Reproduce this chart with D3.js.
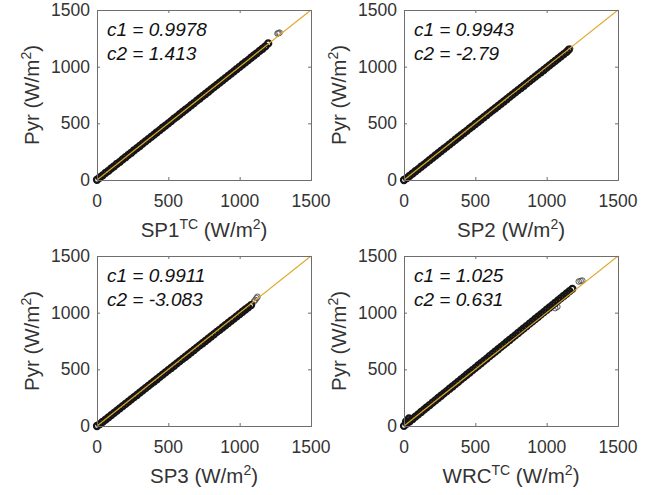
<!DOCTYPE html>
<html><head><meta charset="utf-8">
<script src="https://cdn.jsdelivr.net/npm/d3@7"></script>
<style>body{margin:0;background:#fff}svg{display:block}</style>
</head><body>
<script>
// ---- data ----
const ticks = [0, 500, 1000, 1500];
const xLabels = ["SP1|TC|", "SP2", "SP3", "WRC|TC|"];
const c1Values = ["0.9978", "0.9943", "0.9911", "1.025"];
const c2Values = ["1.413", "-2.79", "-3.083", "0.631"];

// dense band of measurements
const x1 = [0,20,40,60,80,100,120,140,160,180,200,220,240,260,280,300,320,340,360,380,400,420,440,460,480,500,520,540,560,580,600,620,640,660,680,700,720,740,760,780,800,820,840,860,880,900,920,940,960,980,1000,1020,1040,1060,1080,1100,1120,1140,1160,1180,1200];
const y1 = [2,22,41,63,80,102,121,143,160,182,201,222,240,262,281,300,321,341,361,380,400,421,440,461,480,500,520,541,559,580,600,620,639,660,679,700,719,740,759,779,800,819,839,859,879,899,919,939,959,979,999,1019,1039,1058,1079,1099,1118,1139,1158,1179,1205];
// isolated points
const ox1 = [1265,1272,1280];
const oy1 = [1292,1296,1300];

const x2 = [0,20,40,60,80,100,120,140,160,180,200,220,240,260,280,300,320,340,360,380,400,420,440,460,480,500,520,540,560,580,600,620,640,660,680,700,720,740,760,780,800,820,840,860,880,900,920,940,960,980,1000,1020,1040,1060,1080,1100,1120,1140,1155];
const y2 = [0,17,37,57,77,96,117,136,156,176,196,216,236,256,276,295,315,335,355,375,395,415,434,455,474,494,514,534,554,574,594,614,633,653,673,693,713,733,753,773,793,812,832,852,872,892,912,932,951,971,991,1011,1031,1051,1071,1091,1111,1130,1150];
const ox2 = [1165];
const oy2 = [1160];

const x3 = [0,20,40,60,80,100,120,140,160,180,200,220,240,260,280,300,320,340,360,380,400,420,440,460,480,500,520,540,560,580,600,620,640,660,680,700,720,740,760,780,800,820,840,860,880,900,920,940,960,980,1000,1020,1040,1060,1080];
const y3 = [0,17,37,56,76,96,116,136,156,175,195,215,235,255,274,294,314,334,354,374,393,413,433,453,473,493,512,532,552,572,592,611,631,651,671,691,711,730,750,770,790,810,830,849,869,889,909,929,948,968,988,1008,1028,1047,1067];
const ox3 = [1100,1110,1118,1125];
const oy3 = [1098,1112,1128,1140];

const x4 = [0,15,20,35,40,60,80,100,120,140,160,180,200,220,240,260,280,300,320,340,360,380,400,420,440,460,480,500,520,540,560,580,600,620,640,660,680,700,720,740,760,780,800,820,840,860,880,900,920,940,960,980,1000,1020,1040,1060,1080,1100,1120,1140,1160,1180];
const y4 = [1,40,21,66,42,62,83,103,124,144,165,185,206,226,247,267,288,308,329,349,370,390,411,431,452,472,493,513,534,554,575,595,616,636,657,677,698,718,739,759,780,800,821,841,862,882,903,923,944,964,985,1005,1026,1046,1067,1087,1108,1128,1149,1169,1190,1210];
const ox4 = [1060,1075,1225,1238,1250];
const oy4 = [1040,1052,1275,1280,1283];

const seriesX = [x1, x2, x3, x4];
const seriesY = [y1, y2, y3, y4];
const outX = [ox1, ox2, ox3, ox4];
const outY = [oy1, oy2, oy3, oy4];

// ---- layout ----
const W = 660, H = 495;
const pw = 214, ph = 170;
const origins = [[97, 10], [404, 10], [97, 256], [404, 256]];
const textColor = "#333";
const axisColor = "#6e6e6e";
const font = "'Liberation Sans', Arial, Helvetica, sans-serif";

const svg = d3.select("body").append("svg").attr("width", W).attr("height", H)
  .style("font-family", font);

function addRich(sel, str, supSize, supDy) {
  const parts = str.split("|");
  parts.forEach((p, i) => {
    if (!p) return;
    const t = sel.append("tspan").text(p);
    if (i % 2 === 1) { t.attr("dy", -supDy).attr("font-size", supSize); }
    else if (i > 0) { t.attr("dy", supDy); }
  });
}

origins.forEach(([ox, oy], k) => {
  const x = d3.scaleLinear().domain([0, 1500]).range([0, pw]);
  const y = d3.scaleLinear().domain([0, 1500]).range([ph, 0]);
  const g = svg.append("g").attr("transform", `translate(${ox},${oy})`);

  // isolated points
  const oxs = outX[k], oys = outY[k];
  g.append("g").selectAll("circle").data(d3.range(oxs.length)).join("circle")
    .attr("cx", i => x(oxs[i])).attr("cy", i => y(oys[i])).attr("r", 2.8)
    .attr("fill", "none").attr("stroke", "#555").attr("stroke-width", 1);

  // dense band
  const xs = seriesX[k], ys = seriesY[k];
  g.append("g").selectAll("circle").data(d3.range(xs.length)).join("circle")
    .attr("cx", i => x(xs[i])).attr("cy", i => y(ys[i])).attr("r", 3)
    .attr("fill", "none").attr("stroke", "#151515").attr("stroke-width", 2.3);

  // 1:1 line
  g.append("line").attr("x1", x(0)).attr("y1", y(0)).attr("x2", x(1500)).attr("y2", y(1500))
    .attr("stroke", "#E0A82A").attr("stroke-width", 1.1);

  // axes
  const ax = g.append("g").attr("transform", `translate(0,${ph})`)
    .call(d3.axisBottom(x).tickValues(ticks).tickSize(-3).tickFormat(""));
  const axT = g.append("g").call(d3.axisTop(x).tickValues(ticks).tickSize(-3).tickFormat(""));
  const ay = g.append("g").call(d3.axisLeft(y).tickValues(ticks).tickSize(-3).tickFormat(""));
  const ayR = g.append("g").attr("transform", `translate(${pw},0)`)
    .call(d3.axisRight(y).tickValues(ticks).tickSize(-3).tickFormat(""));
  [ax, axT, ay, ayR].forEach(a => {
    a.select(".domain").attr("stroke", axisColor).attr("stroke-width", 1);
    a.selectAll(".tick line").attr("stroke", axisColor);
  });

  // tick labels
  g.append("g").selectAll("text").data(ticks).join("text")
    .attr("x", d => x(d)).attr("y", ph + 27).attr("text-anchor", "middle")
    .attr("font-size", 17.5).attr("fill", textColor).text(d => d);
  g.append("g").selectAll("text").data(ticks).join("text")
    .attr("x", -7).attr("y", d => y(d) + 6).attr("text-anchor", "end")
    .attr("font-size", 17.5).attr("fill", textColor).text(d => d);

  // axis labels
  const xl = g.append("text").attr("x", pw / 2).attr("y", ph + 57).attr("text-anchor", "middle")
    .attr("font-size", 20.5).attr("fill", textColor);
  addRich(xl, xLabels[k] + " (W/m|2|)", 14, 8);
  const yl = g.append("text").attr("transform", `translate(-58,${ph / 2}) rotate(-90)`)
    .attr("text-anchor", "middle").attr("font-size", 20.5).attr("fill", textColor);
  addRich(yl, "Pyr (W/m|2|)", 14, 8);

  // annotation
  g.append("text").attr("x", 10).attr("y", 26).attr("font-size", 19).attr("font-style", "italic")
    .attr("fill", "#111").text("c1 = " + c1Values[k]);
  g.append("text").attr("x", 10).attr("y", 50).attr("font-size", 19).attr("font-style", "italic")
    .attr("fill", "#111").text("c2 = " + c2Values[k]);
});
</script>
</body></html>
